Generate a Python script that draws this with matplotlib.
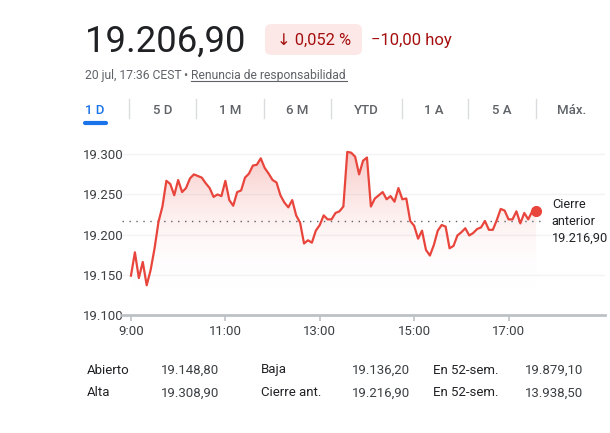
import numpy as np
import matplotlib
matplotlib.use("Agg")
import matplotlib.pyplot as plt
from matplotlib.patches import FancyBboxPatch, Polygon
from matplotlib.colors import LinearSegmentedColormap

plt.rcParams['font.family'] = ['Roboto', 'DejaVu Sans']

# intraday quotes, one every 5 minutes from 9:00
minutes = list(range(0, 520, 5))
prices = [19149, 19178, 19146, 19166, 19137, 19156, 19183, 19216, 19235, 19267,
          19263, 19249, 19268, 19253, 19258, 19270, 19275, 19273, 19271, 19264,
          19258, 19247, 19250, 19248, 19267, 19243, 19236, 19253, 19255, 19271,
          19276, 19286, 19287, 19295, 19283, 19276, 19268, 19265, 19249, 19240,
          19234, 19243, 19224, 19215, 19189, 19193, 19190, 19205, 19212, 19224,
          19219, 19219, 19227, 19229, 19235, 19303, 19302, 19297, 19275, 19292,
          19296, 19235, 19245, 19249, 19253, 19244, 19248, 19241, 19258, 19244,
          19245, 19217, 19211, 19195, 19205, 19181, 19174, 19187, 19205, 19212,
          19210, 19183, 19186, 19199, 19203, 19208, 19199, 19202, 19207, 19209,
          19217, 19206, 19206, 19218, 19232, 19230, 19219, 19219, 19229, 19214,
          19227, 19219, 19229, 19230]
prev_close = 19216.9

yticks = [19100, 19150, 19200, 19250, 19300]
ytick_labels = ['19.100', '19.150', '19.200', '19.250', '19.300']
xticks = [0, 120, 240, 360, 480]
xtick_labels = ['9:00', '11:00', '13:00', '15:00', '17:00']

tabs = ['1 D', '5 D', '1 M', '6 M', 'YTD', '1 A', '5 A', 'Máx.']
tab_x = [95, 163, 230, 297, 366, 434, 502, 572]
sep_x = [129, 196, 264, 331, 402, 468, 536]

stats_labels = [['Abierto', 'Baja', 'En 52-sem.'], ['Alta', 'Cierre ant.', 'En 52-sem.']]
stats_values = [['19.148,80', '19.136,20', '19.879,10'], ['19.308,90', '19.216,90', '13.938,50']]

W, H = 610, 433
RED = '#e8453c'
DARK_RED = '#a50e0e'
GRAY = '#5f6368'
TEXT = '#202124'

fig = plt.figure(figsize=(W / 100, H / 100), dpi=100)
fig.patch.set_facecolor('white')


def px(x, y):
    return x / W, 1 - y / H


# axes placed in pixel coordinates
left, right, top, bottom = 122, 605, 150, 315
ax = fig.add_axes([left / W, 1 - bottom / H, (right - left) / W, (bottom - top) / H])
ax.set_xlim(-11.4, 602.6)
ax.set_ylim(19100, 19100 + (bottom - top) / 0.8035)

for v in yticks[1:]:
    ax.axhline(v, color='#f1f3f4', lw=1, zorder=0)

# gradient fill under the line
x = np.array(minutes, dtype=float)
y = np.array(prices, dtype=float)
cmap = LinearSegmentedColormap.from_list(
    'fade', [(1, 1, 1, 0), (0.91, 0.27, 0.24, 0.30)])
grad = np.linspace(0, 1, 256).reshape(-1, 1)
img = ax.imshow(grad, aspect='auto', cmap=cmap, origin='lower',
                extent=[x[0], x[-1], 19130, 19305], zorder=1)
verts = np.column_stack([np.r_[x, x[-1], x[0]], np.r_[y, 19100, 19100]])
clip = Polygon(verts, closed=True, transform=ax.transData, facecolor='none', edgecolor='none')
ax.add_patch(clip)
img.set_clip_path(clip)

ax.plot(x, y, color=RED, lw=1.6, zorder=3, solid_joinstyle='round')
ax.plot(x[-1], y[-1], 'o', color=RED, ms=7, zorder=4)

# previous close dotted line
ax.plot([-11.4, 524], [prev_close, prev_close], color='#5f6368', lw=1,
        linestyle=(0, (1, 4)), zorder=2)
ax.text(535, prev_close, 'Cierre\nanterior\n19.216,90', fontsize=9.2,
        color=TEXT, va='center', ha='left', linespacing=1.4)

for s in ['top', 'right', 'left']:
    ax.spines[s].set_visible(False)
ax.spines['bottom'].set_color('#bdc1c6')
ax.spines['bottom'].set_linewidth(2)
ax.set_xticks(xticks)
ax.set_xticklabels(xtick_labels, fontsize=9.5, color='#3c4043')
ax.tick_params(axis='x', length=4, width=1.2, color='#bdc1c6', pad=3)
ax.set_yticks(yticks)
ax.set_yticklabels(ytick_labels, fontsize=9.5, color='#3c4043')
ax.tick_params(axis='y', length=0, pad=-1)
ax.set_facecolor('none')

# header
fig.text(*px(85, 52), '19.206,90', fontsize=26.3, color=TEXT, va='baseline')
badge = FancyBboxPatch(px(265, 55), 97 / W, 31 / H, transform=fig.transFigure,
                       boxstyle='round,pad=0,rounding_size=0.012',
                       facecolor='#fce8e6', edgecolor='none')
fig.patches.append(badge)
fig.text(*px(314, 40), '↓ 0,052 %', fontsize=11.8, color=DARK_RED, ha='center', va='center')
fig.text(*px(371, 40), '−10,00 hoy', fontsize=12, color=DARK_RED, ha='left', va='center')

fig.text(*px(85, 75), '20 jul, 17:36 CEST', fontsize=8.7, color=GRAY, va='center')
fig.text(*px(185, 75), '•', fontsize=8.7, color=GRAY, va='center', ha='center')
fig.text(*px(191, 75), 'Renuncia de responsabilidad', fontsize=8.7, color=GRAY, va='center')
fig.add_artist(plt.Line2D([191 / W, 347 / W], [1 - 81 / H, 1 - 81 / H], color=GRAY, lw=0.8))

# range tabs
for i, (t, tx) in enumerate(zip(tabs, tab_x)):
    fig.text(*px(tx, 110), t, fontsize=9.5, fontweight='medium',
             color='#1a73e8' if i == 0 else GRAY, ha='center', va='center')
for sx in sep_x:
    fig.add_artist(plt.Line2D([sx / W, sx / W], [1 - 99 / H, 1 - 118 / H], color='#dadce0', lw=1))
fig.add_artist(plt.Line2D([85 / W, 106 / W], [1 - 123 / H, 1 - 123 / H], color='#1a73e8',
                          lw=3, solid_capstyle='round'))

# stats table
col_label_x = [87, 261, 433]
col_value_x = [161, 352, 525]
row_y = [370, 393]
for r in range(2):
    for c in range(3):
        fig.text(*px(col_label_x[c], row_y[r]), stats_labels[r][c], fontsize=9.5,
                 color=TEXT, va='center')
        fig.text(*px(col_value_x[c], row_y[r]), stats_values[r][c], fontsize=9.5,
                 color='#3c4043', va='center')

fig.savefig('out.png', dpi=100)
